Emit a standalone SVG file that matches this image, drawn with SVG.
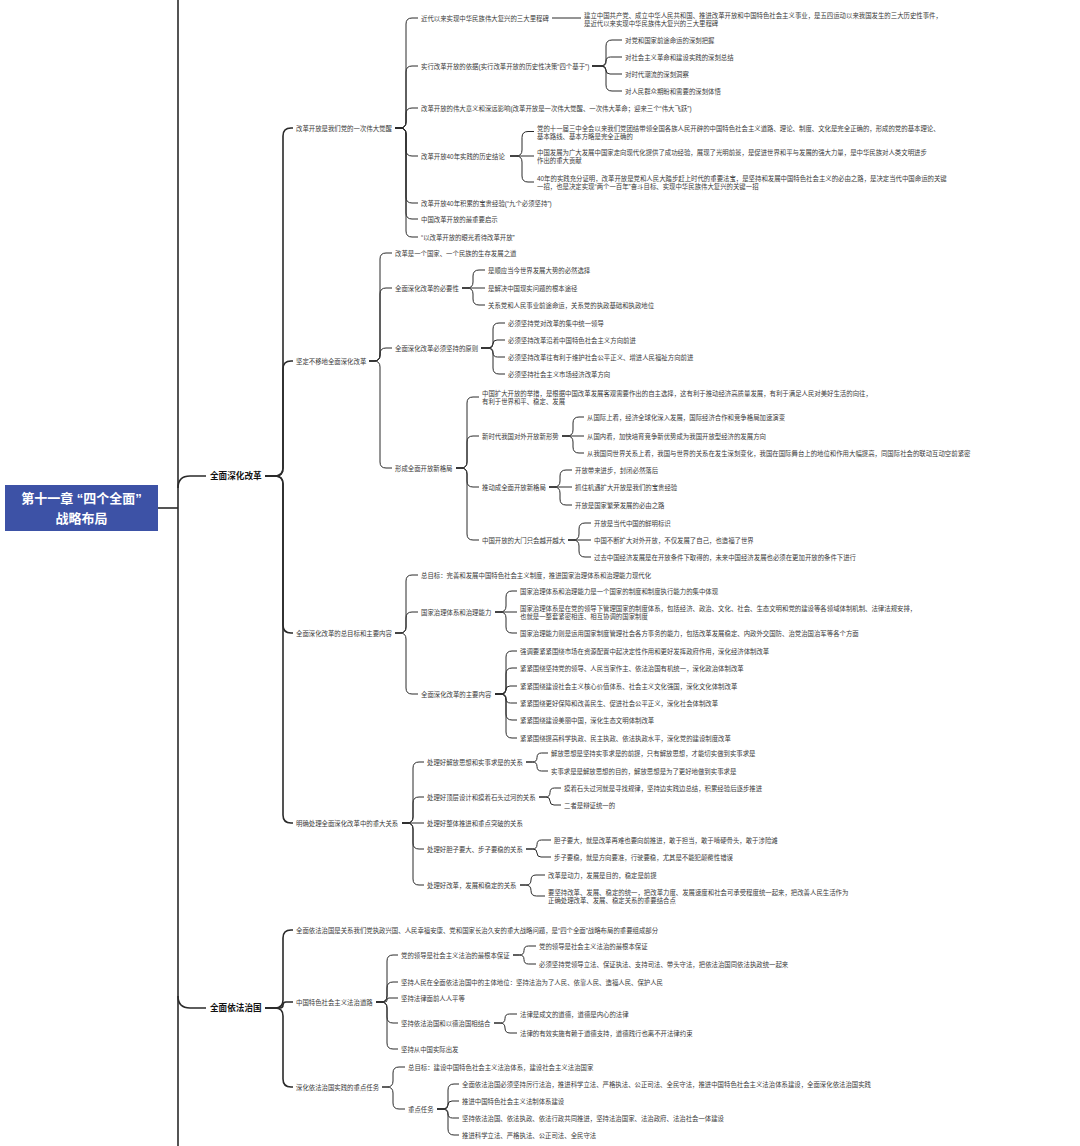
<svg xmlns="http://www.w3.org/2000/svg" width="1080" height="1146" viewBox="0 0 1080 1146">
<style>
.t{font-family:"Liberation Sans","Noto Sans CJK SC",sans-serif;font-size:6.4px;fill:#3a3a3a;dominant-baseline:central}
.b{font-family:"Liberation Sans","Noto Sans CJK SC",sans-serif;font-size:8.6px;font-weight:bold;fill:#111;dominant-baseline:central}
.r{font-family:"Liberation Sans","Noto Sans CJK SC",sans-serif;font-size:13px;font-weight:bold;fill:#fff;text-anchor:middle;dominant-baseline:central}
.c path{fill:none;stroke:#2a2a2a;stroke-width:1}
.c .k{stroke-width:1.6}
</style>
<rect width="1080" height="1146" fill="#fff"/>
<g class="c" id="connectors">
<path class="k" d="M178 0 V1146"/>
<path class="k" d="M158 508 H178"/>
<path class="k" d="M178 488 Q178 476 190 476 H206"/>
<path class="k" d="M178 996 Q178 1008 190 1008 H206"/>
<path class="k" d="M265 476 H275 Q283 476 283 468 V136 Q283 128 291 128 H293"/>
<path class="k" d="M265 476 H275 Q283 476 283 468 V369 Q283 361 291 361 H293"/>
<path class="k" d="M265 476 H275 Q283 476 283 484 V625 Q283 633 291 633 H293"/>
<path class="k" d="M265 476 H275 Q283 476 283 484 V815 Q283 823 291 823 H293"/>
<path class="k" d="M265 1008 H275 Q283 1008 283 1000 V938 Q283 930 291 930 H293"/>
<path class="k" d="M265 1008 H280 Q283 1008 283 1005 Q283 1002 286 1002 H293"/>
<path class="k" d="M265 1008 H275 Q283 1008 283 1016 V1079 Q283 1087 291 1087 H293"/>
<path d="M395 128 H400 Q406 128 406 122 V24 Q406 18 412 18 H418"/>
<path d="M395 128 H400 Q406 128 406 122 V72 Q406 66 412 66 H418"/>
<path d="M395 128 H400 Q406 128 406 122 V114 Q406 108 412 108 H418"/>
<path d="M395 128 H400 Q406 128 406 134 V150 Q406 156 412 156 H418"/>
<path d="M395 128 H400 Q406 128 406 134 V197 Q406 203 412 203 H418"/>
<path d="M395 128 H400 Q406 128 406 134 V213 Q406 219 412 219 H418"/>
<path d="M395 128 H400 Q406 128 406 134 V231 Q406 237 412 237 H418"/>
<path d="M552 18 H581"/>
<path d="M592 66 H600 Q606 66 606 60 V46 Q606 40 612 40 H622"/>
<path d="M592 66 H601.5 Q606 66 606 61.5 Q606 57 610.5 57 H622"/>
<path d="M592 66 H602 Q606 66 606 70 Q606 74 610 74 H622"/>
<path d="M592 66 H600 Q606 66 606 72 V85 Q606 91 612 91 H622"/>
<path d="M510 156 H516 Q522 156 522 150 V137.5 Q522 131.5 528 131.5 H534"/>
<path d="M510 156 H534"/>
<path d="M510 156 H516 Q522 156 522 162 V176 Q522 182 528 182 H534"/>
<path d="M369 361 H374 Q380 361 380 355 V259 Q380 253 386 253 H392"/>
<path d="M369 361 H374 Q380 361 380 355 V294 Q380 288 386 288 H392"/>
<path d="M369 361 H374 Q380 361 380 355 V354 Q380 348 386 348 H392"/>
<path d="M369 361 H374 Q380 361 380 367 V462 Q380 468 386 468 H392"/>
<path d="M462 288 H467 Q473 288 473 282 V276 Q473 270 479 270 H485"/>
<path d="M462 288 H485"/>
<path d="M462 288 H467 Q473 288 473 294 V299 Q473 305 479 305 H485"/>
<path d="M481 348 H487 Q493 348 493 342 V329 Q493 323 499 323 H505"/>
<path d="M481 348 H489 Q493 348 493 344 Q493 340 497 340 H505"/>
<path d="M481 348 H488.5 Q493 348 493 352.5 Q493 357 497.5 357 H505"/>
<path d="M481 348 H487 Q493 348 493 354 V368 Q493 374 499 374 H505"/>
<path d="M456 468 H461 Q467 468 467 462 V403 Q467 397 473 397 H479"/>
<path d="M456 468 H461 Q467 468 467 462 V442 Q467 436 473 436 H479"/>
<path d="M456 468 H461 Q467 468 467 474 V481 Q467 487 473 487 H479"/>
<path d="M456 468 H461 Q467 468 467 474 V534 Q467 540 473 540 H479"/>
<path d="M562 436 H567 Q573 436 573 430 V423 Q573 417 579 417 H584"/>
<path d="M562 436 H584"/>
<path d="M562 436 H567 Q573 436 573 442 V447 Q573 453 579 453 H584"/>
<path d="M549 487 H554 Q560 487 560 481 V476 Q560 470 566 470 H572"/>
<path d="M549 487 H572"/>
<path d="M549 487 H554 Q560 487 560 493 V499 Q560 505 566 505 H572"/>
<path d="M568 540 H573 Q579 540 579 534 V529 Q579 523 585 523 H591"/>
<path d="M568 540 H591"/>
<path d="M568 540 H573 Q579 540 579 546 V551 Q579 557 585 557 H591"/>
<path d="M395 633 H400 Q406 633 406 627 V581 Q406 575 412 575 H418"/>
<path d="M395 633 H400 Q406 633 406 627 V618 Q406 612 412 612 H418"/>
<path d="M395 633 H400 Q406 633 406 639 V688 Q406 694 412 694 H418"/>
<path d="M495 612 H500 Q506 612 506 606 V597 Q506 591 512 591 H517"/>
<path d="M495 612 H517"/>
<path d="M495 612 H500 Q506 612 506 618 V627 Q506 633 512 633 H517"/>
<path d="M495 694 H500 Q506 694 506 688 V657 Q506 651 512 651 H517"/>
<path d="M495 694 H500 Q506 694 506 688 V674 Q506 668 512 668 H517"/>
<path d="M495 694 H502 Q506 694 506 690 Q506 686 510 686 H517"/>
<path d="M495 694 H501.5 Q506 694 506 698.5 Q506 703 510.5 703 H517"/>
<path d="M495 694 H500 Q506 694 506 700 V714 Q506 720 512 720 H517"/>
<path d="M495 694 H500 Q506 694 506 700 V732 Q506 738 512 738 H517"/>
<path d="M402 823 H407 Q413 823 413 817 V768 Q413 762 419 762 H424"/>
<path d="M402 823 H407 Q413 823 413 817 V803 Q413 797 419 797 H424"/>
<path d="M402 823 H424"/>
<path d="M402 823 H407 Q413 823 413 829 V843 Q413 849 419 849 H424"/>
<path d="M402 823 H407 Q413 823 413 829 V879 Q413 885 419 885 H424"/>
<path d="M526 762 H532.5 Q537 762 537 757.5 Q537 753 541.5 753 H548"/>
<path d="M526 762 H532.5 Q537 762 537 766.5 Q537 771 541.5 771 H548"/>
<path d="M539 797 H545.5 Q550 797 550 792.5 Q550 788 554.5 788 H561"/>
<path d="M539 797 H546 Q550 797 550 801 Q550 805 554 805 H561"/>
<path d="M526 849 H532.5 Q537 849 537 844.5 Q537 840 541.5 840 H551"/>
<path d="M526 849 H533 Q537 849 537 853 Q537 857 541 857 H551"/>
<path d="M520 885 H526 Q531 885 531 880 Q531 875 536 875 H545"/>
<path d="M520 885 H525.5 Q531 885 531 890.5 Q531 896 536.5 896 H545"/>
<path d="M376 1002 H381 Q387 1002 387 996 V961 Q387 955 393 955 H398"/>
<path d="M376 1002 H381 Q387 1002 387 996 V988 Q387 982 393 982 H398"/>
<path d="M376 1002 H385 Q387 1002 387 1000 Q387 998 389 998 H398"/>
<path d="M376 1002 H381 Q387 1002 387 1008 V1017 Q387 1023 393 1023 H398"/>
<path d="M376 1002 H381 Q387 1002 387 1008 V1043 Q387 1049 393 1049 H398"/>
<path d="M513 955 H519.5 Q524 955 524 950.5 Q524 946 528.5 946 H536"/>
<path d="M513 955 H519.5 Q524 955 524 959.5 Q524 964 528.5 964 H536"/>
<path d="M494 1023 H500.5 Q505 1023 505 1018.5 Q505 1014 509.5 1014 H517"/>
<path d="M494 1023 H500 Q505 1023 505 1028 Q505 1033 510 1033 H517"/>
<path d="M382 1087 H387 Q393 1087 393 1081 V1073 Q393 1067 399 1067 H405"/>
<path d="M382 1087 H387 Q393 1087 393 1093 V1103 Q393 1109 399 1109 H405"/>
<path d="M437 1109 H442 Q448 1109 448 1103 V1090 Q448 1084 454 1084 H459"/>
<path d="M437 1109 H444 Q448 1109 448 1105 Q448 1101 452 1101 H459"/>
<path d="M437 1109 H443.5 Q448 1109 448 1113.5 Q448 1118 452.5 1118 H459"/>
<path d="M437 1109 H442 Q448 1109 448 1115 V1129 Q448 1135 454 1135 H459"/>
</g>
<g id="root"><rect x="5" y="485" width="153" height="46" fill="#3d52a6"/><text class="r" x="81.5" y="498">第十一章 “四个全面”</text><text class="r" x="81.5" y="518">战略布局</text></g>
<g id="b1"><text class="b" x="210" y="476">全面深化改革</text></g>
<g id="b2"><text class="b" x="210" y="1008">全面依法治国</text></g>
<g id="n1"><text class="t" x="296" y="128">改革开放是我们党的一次伟大觉醒</text></g>
<g id="n1a"><text class="t" x="421" y="18">近代以来实现中华民族伟大复兴的三大里程碑</text></g>
<g id="n1a1"><text class="t" x="584"><tspan x="584" y="14.5">建立中国共产党、成立中华人民共和国、推进改革开放和中国特色社会主义事业，是五四运动以来我国发生的三大历史性事件，</tspan><tspan x="584" y="22.5">是近代以来实现中华民族伟大复兴的三大里程碑</tspan></text></g>
<g id="n1b"><text class="t" x="421" y="66">实行改革开放的依据(实行改革开放的历史性决策“四个基于”)</text></g>
<g id="n1b1"><text class="t" x="625" y="40">对党和国家前途命运的深刻把握</text></g>
<g id="n1b2"><text class="t" x="625" y="57">对社会主义革命和建设实践的深刻总结</text></g>
<g id="n1b3"><text class="t" x="625" y="74">对时代潮流的深刻洞察</text></g>
<g id="n1b4"><text class="t" x="625" y="91">对人民群众期盼和需要的深刻体悟</text></g>
<g id="n1c"><text class="t" x="421" y="108">改革开放的伟大意义和深远影响(改革开放是一次伟大觉醒、一次伟大革命；迎来三个“伟大飞跃”)</text></g>
<g id="n1d"><text class="t" x="421" y="156">改革开放40年实践的历史结论</text></g>
<g id="n1d1"><text class="t"><tspan x="537" y="127.5">党的十一届三中全会以来我们党团结带领全国各族人民开辟的中国特色社会主义道路、理论、制度、文化是完全正确的，形成的党的基本理论、</tspan><tspan x="537" y="135.5">基本路线、基本方略是完全正确的</tspan></text></g>
<g id="n1d2"><text class="t"><tspan x="537" y="152">中国发展为广大发展中国家走向现代化提供了成功经验，展现了光明前景，是促进世界和平与发展的强大力量，是中华民族对人类文明进步</tspan><tspan x="537" y="160">作出的重大贡献</tspan></text></g>
<g id="n1d3"><text class="t"><tspan x="537" y="178">40年的实践充分证明，改革开放是党和人民大踏步赶上时代的重要法宝，是坚持和发展中国特色社会主义的必由之路，是决定当代中国命运的关键</tspan><tspan x="537" y="186">一招，也是决定实现“两个一百年”奋斗目标、实现中华民族伟大复兴的关键一招</tspan></text></g>
<g id="n1e"><text class="t" x="421" y="203">改革开放40年积累的宝贵经验(“九个必须坚持”)</text></g>
<g id="n1f"><text class="t" x="421" y="219">中国改革开放的最重要启示</text></g>
<g id="n1g"><text class="t" x="421" y="237">“以改革开放的眼光看待改革开放”</text></g>
<g id="n2"><text class="t" x="296" y="361">坚定不移地全面深化改革</text></g>
<g id="n2a"><text class="t" x="395" y="253">改革是一个国家、一个民族的生存发展之道</text></g>
<g id="n2b"><text class="t" x="395" y="288">全面深化改革的必要性</text></g>
<g id="n2b1"><text class="t" x="488" y="270">是顺应当今世界发展大势的必然选择</text></g>
<g id="n2b2"><text class="t" x="488" y="288">是解决中国现实问题的根本途径</text></g>
<g id="n2b3"><text class="t" x="488" y="305">关系党和人民事业前途命运，关系党的执政基础和执政地位</text></g>
<g id="n2c"><text class="t" x="395" y="348">全面深化改革必须坚持的原则</text></g>
<g id="n2c1"><text class="t" x="508" y="323">必须坚持党对改革的集中统一领导</text></g>
<g id="n2c2"><text class="t" x="508" y="340">必须坚持改革沿着中国特色社会主义方向前进</text></g>
<g id="n2c3"><text class="t" x="508" y="357">必须坚持改革往有利于维护社会公平正义、增进人民福祉方向前进</text></g>
<g id="n2c4"><text class="t" x="508" y="374">必须坚持社会主义市场经济改革方向</text></g>
<g id="n2d"><text class="t" x="395" y="468">形成全面开放新格局</text></g>
<g id="n2d1"><text class="t"><tspan x="482" y="393">中国扩大开放的举措，是根据中国改革发展客观需要作出的自主选择，这有利于推动经济高质量发展，有利于满足人民对美好生活的向往，</tspan><tspan x="482" y="401">有利于世界和平、稳定、发展</tspan></text></g>
<g id="n2d2"><text class="t" x="482" y="436">新时代我国对外开放新形势</text></g>
<g id="n2d2a"><text class="t" x="587" y="417">从国际上看，经济全球化深入发展，国际经济合作和竞争格局加速演变</text></g>
<g id="n2d2b"><text class="t" x="587" y="436">从国内看，加快培育竞争新优势成为我国开放型经济的发展方向</text></g>
<g id="n2d2c"><text class="t" x="587" y="453">从我国同世界关系上看，我国与世界的关系在发生深刻变化，我国在国际舞台上的地位和作用大幅提高，同国际社会的联动互动空前紧密</text></g>
<g id="n2d3"><text class="t" x="482" y="487">推动成全面开放新格局</text></g>
<g id="n2d3a"><text class="t" x="575" y="470">开放带来进步，封闭必然落后</text></g>
<g id="n2d3b"><text class="t" x="575" y="487">抓住机遇扩大开放是我们的宝贵经验</text></g>
<g id="n2d3c"><text class="t" x="575" y="505">开放是国家繁荣发展的必由之路</text></g>
<g id="n2d4"><text class="t" x="482" y="540">中国开放的大门只会越开越大</text></g>
<g id="n2d4a"><text class="t" x="594" y="523">开放是当代中国的鲜明标识</text></g>
<g id="n2d4b"><text class="t" x="594" y="540">中国不断扩大对外开放，不仅发展了自己，也造福了世界</text></g>
<g id="n2d4c"><text class="t" x="594" y="557">过去中国经济发展是在开放条件下取得的，未来中国经济发展也必须在更加开放的条件下进行</text></g>
<g id="n3"><text class="t" x="296" y="633">全面深化改革的总目标和主要内容</text></g>
<g id="n3a"><text class="t" x="421" y="575">总目标：完善和发展中国特色社会主义制度，推进国家治理体系和治理能力现代化</text></g>
<g id="n3b"><text class="t" x="421" y="612">国家治理体系和治理能力</text></g>
<g id="n3b1"><text class="t" x="520" y="591">国家治理体系和治理能力是一个国家的制度和制度执行能力的集中体现</text></g>
<g id="n3b2"><text class="t"><tspan x="520" y="607.5">国家治理体系是在党的领导下管理国家的制度体系，包括经济、政治、文化、社会、生态文明和党的建设等各领域体制机制、法律法规安排，</tspan><tspan x="520" y="615.5">也就是一整套紧密相连、相互协调的国家制度</tspan></text></g>
<g id="n3b3"><text class="t" x="520" y="633">国家治理能力则是运用国家制度管理社会各方事务的能力，包括改革发展稳定、内政外交国防、治党治国治军等各个方面</text></g>
<g id="n3c"><text class="t" x="421" y="694">全面深化改革的主要内容</text></g>
<g id="n3c1"><text class="t" x="520" y="651">强调要紧紧围绕市场在资源配置中起决定性作用和更好发挥政府作用，深化经济体制改革</text></g>
<g id="n3c2"><text class="t" x="520" y="668">紧紧围绕坚持党的领导、人民当家作主、依法治国有机统一，深化政治体制改革</text></g>
<g id="n3c3"><text class="t" x="520" y="686">紧紧围绕建设社会主义核心价值体系、社会主义文化强国，深化文化体制改革</text></g>
<g id="n3c4"><text class="t" x="520" y="703">紧紧围绕更好保障和改善民生、促进社会公平正义，深化社会体制改革</text></g>
<g id="n3c5"><text class="t" x="520" y="720">紧紧围绕建设美丽中国，深化生态文明体制改革</text></g>
<g id="n3c6"><text class="t" x="520" y="738">紧紧围绕提高科学执政、民主执政、依法执政水平，深化党的建设制度改革</text></g>
<g id="n4"><text class="t" x="296" y="823">明确处理全面深化改革中的重大关系</text></g>
<g id="n4a"><text class="t" x="427" y="762">处理好解放思想和实事求是的关系</text></g>
<g id="n4a1"><text class="t" x="551" y="753">解放思想是坚持实事求是的前提，只有解放思想，才能切实做到实事求是</text></g>
<g id="n4a2"><text class="t" x="551" y="771">实事求是是解放思想的目的，解放思想是为了更好地做到实事求是</text></g>
<g id="n4b"><text class="t" x="427" y="797">处理好顶层设计和摸着石头过河的关系</text></g>
<g id="n4b1"><text class="t" x="564" y="788">摸着石头过河就是寻找规律，坚持边实践边总结，积累经验后逐步推进</text></g>
<g id="n4b2"><text class="t" x="564" y="805">二者是辩证统一的</text></g>
<g id="n4c"><text class="t" x="427" y="823">处理好整体推进和重点突破的关系</text></g>
<g id="n4d"><text class="t" x="427" y="849">处理好胆子要大、步子要稳的关系</text></g>
<g id="n4d1"><text class="t" x="554" y="840">胆子要大，就是改革再难也要向前推进，敢于担当，敢于啃硬骨头，敢于涉险滩</text></g>
<g id="n4d2"><text class="t" x="554" y="857">步子要稳，就是方向要准，行驶要稳，尤其是不能犯颠覆性错误</text></g>
<g id="n4e"><text class="t" x="427" y="885">处理好改革，发展和稳定的关系</text></g>
<g id="n4e1"><text class="t" x="548" y="875">改革是动力，发展是目的，稳定是前提</text></g>
<g id="n4e2"><text class="t"><tspan x="548" y="892">要坚持改革、发展、稳定的统一，把改革力度、发展速度和社会可承受程度统一起来，把改善人民生活作为</tspan><tspan x="548" y="900">正确处理改革、发展、稳定关系的重要结合点</tspan></text></g>
<g id="n5"><text class="t" x="296" y="930">全面依法治国是关系我们党执政兴国、人民幸福安康、党和国家长治久安的重大战略问题，是“四个全面”战略布局的重要组成部分</text></g>
<g id="n6"><text class="t" x="296" y="1002">中国特色社会主义法治道路</text></g>
<g id="n6a"><text class="t" x="401" y="955">党的领导是社会主义法治的最根本保证</text></g>
<g id="n6a1"><text class="t" x="539" y="946">党的领导是社会主义法治的最根本保证</text></g>
<g id="n6a2"><text class="t" x="539" y="964">必须坚持党领导立法、保证执法、支持司法、带头守法，把依法治国同依法执政统一起来</text></g>
<g id="n6b"><text class="t" x="401" y="982">坚持人民在全面依法治国中的主体地位：坚持法治为了人民、依靠人民、造福人民、保护人民</text></g>
<g id="n6c"><text class="t" x="401" y="998">坚持法律面前人人平等</text></g>
<g id="n6d"><text class="t" x="401" y="1023">坚持依法治国和以德治国相结合</text></g>
<g id="n6d1"><text class="t" x="520" y="1014">法律是成文的道德，道德是内心的法律</text></g>
<g id="n6d2"><text class="t" x="520" y="1033">法律的有效实施有赖于道德支持，道德践行也离不开法律约束</text></g>
<g id="n6e"><text class="t" x="401" y="1049">坚持从中国实际出发</text></g>
<g id="n7"><text class="t" x="296" y="1087">深化依法治国实践的重点任务</text></g>
<g id="n7a"><text class="t" x="408" y="1067">总目标：建设中国特色社会主义法治体系，建设社会主义法治国家</text></g>
<g id="n7b"><text class="t" x="408" y="1109">重点任务</text></g>
<g id="n7b1"><text class="t" x="462" y="1084">全面依法治国必须坚持厉行法治，推进科学立法、严格执法、公正司法、全民守法，推进中国特色社会主义法治体系建设，全面深化依法治国实践</text></g>
<g id="n7b2"><text class="t" x="462" y="1101">推进中国特色社会主义法制体系建设</text></g>
<g id="n7b3"><text class="t" x="462" y="1118">坚持依法治国、依法执政、依法行政共同推进，坚持法治国家、法治政府、法治社会一体建设</text></g>
<g id="n7b4"><text class="t" x="462" y="1135">推进科学立法、严格执法、公正司法、全民守法</text></g>
</svg>
